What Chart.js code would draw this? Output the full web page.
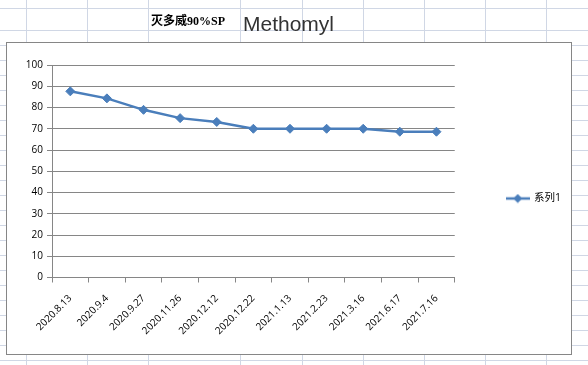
<!DOCTYPE html>
<html lang="zh">
<head>
<meta charset="UTF-8">
<title>Methomyl</title>
<style>
    html, body { margin: 0; padding: 0; background: #fff; }
    body { width: 588px; height: 365px; position: relative; overflow: hidden; }
    #sheet { position: absolute; left: 0; top: 0; }
    .cell-text { position: absolute; white-space: nowrap; }
    #nameCn { left: 151px; top: 15px; font: bold 12px/12px "Liberation Serif", "Noto Sans CJK SC", serif; color: #000; }
    #nameEn { left: 243px; top: 13px; font: 21px/21px "Liberation Sans", sans-serif; color: #333; }
    #chartBox { position: absolute; left: 6px; top: 42px; width: 566px; height: 313px;
        box-sizing: border-box; border: 1px solid #868686; background: #fff; }
    #chart { display: block; }
</style>
<script src="https://cdn.jsdelivr.net/npm/chart.js@4"></script>
</head>
<body>
<canvas id="sheet" width="588" height="365"></canvas>
<div class="cell-text" id="nameCn">灭多威90%SP</div>
<div class="cell-text" id="nameEn">Methomyl</div>
<div id="chartBox">
    <canvas id="chart" width="564" height="311"></canvas>
</div>

<script>
    // 数据
    const dates = ['2020.8.13', '2020.9.4', '2020.9.27', '2020.11.26', '2020.12.12', '2020.12.22',
        '2021.1.13', '2021.2.23', '2021.3.16', '2021.6.17', '2021.7.16'];
    const series1 = [87.6, 84.3, 78.9, 75.0, 73.2, 70.0, 70.0, 70.0, 70.0, 68.6, 68.6];
    const seriesName = '系列1';
    const yMin = 0, yMax = 100, yStep = 10;

    const lineBlue = '#4a7ebb';
    const axisGrey = '#868686';

    // 表格背景线 (Excel sheet)
    const sheet = document.getElementById('sheet').getContext('2d');
    sheet.strokeStyle = '#d0d7e5';
    sheet.lineWidth = 1;
    const rowLines = [8];
    for (let y = 30; y <= 365; y += 15) rowLines.push(y);
    const colLines = [26, 87, 148, 240, 302, 363, 424, 485, 546];
    sheet.beginPath();
    rowLines.forEach(y => { sheet.moveTo(0, y + 0.5); sheet.lineTo(588, y + 0.5); });
    colLines.forEach(x => { sheet.moveTo(x + 0.5, 0); sheet.lineTo(x + 0.5, 365); });
    sheet.stroke();

    // legend marker: line with diamond
    const legendMark = document.createElement('canvas');
    legendMark.width = 24;
    legendMark.height = 10;
    const lm = legendMark.getContext('2d');
    lm.strokeStyle = lineBlue;
    lm.lineWidth = 2.5;
    lm.beginPath();
    lm.moveTo(0, 5);
    lm.lineTo(24, 5);
    lm.stroke();
    lm.fillStyle = lineBlue;
    lm.beginPath();
    lm.moveTo(12, 0.5);
    lm.lineTo(16.5, 5);
    lm.lineTo(12, 9.5);
    lm.lineTo(7.5, 5);
    lm.closePath();
    lm.fill();

    Chart.defaults.font.family = "'Open Sans', 'Noto Sans CJK SC', sans-serif";
    Chart.defaults.font.size = 10;
    Chart.defaults.color = '#000';

    const chart = new Chart(document.getElementById('chart').getContext('2d'), {
        type: 'line',
        data: {
            labels: dates,
            datasets: [{
                label: seriesName,
                data: series1,
                borderColor: lineBlue,
                backgroundColor: lineBlue,
                borderWidth: 2.5,
                tension: 0,
                pointStyle: 'rectRot',
                pointRadius: 4.5,
                pointHoverRadius: 4.5,
                pointBorderWidth: 1,
                pointBackgroundColor: lineBlue,
                pointBorderColor: lineBlue
            }]
        },
        options: {
            responsive: false,
            animation: false,
            layout: { padding: 0 },
            plugins: {
                tooltip: { enabled: false },
                // empty title only reserves the space above the plot, legend stays centred on the whole box
                title: {
                    display: true,
                    text: ' ',
                    fullSize: false,
                    font: { size: 10, lineHeight: 1.2 },
                    padding: { top: 5, bottom: 5 }
                },
                legend: {
                    position: 'right',
                    labels: {
                        usePointStyle: true,
                        pointStyle: legendMark,
                        pointStyleWidth: 22,
                        padding: 52,
                        font: { size: 10.5 },
                        color: '#000'
                    }
                }
            },
            scales: {
                x: {
                    offset: true,
                    grid: { offset: true, drawOnChartArea: false, drawTicks: true, tickLength: 5, color: axisGrey },
                    border: { color: axisGrey },
                    ticks: { autoSkip: false, maxRotation: 45, minRotation: 45, padding: 10 },
                    afterFit: (scale) => { scale.height = 76.5; }
                },
                y: {
                    min: yMin,
                    max: yMax,
                    grid: { color: axisGrey, tickLength: 5 },
                    border: { color: axisGrey },
                    ticks: { stepSize: yStep, padding: 4 },
                    afterFit: (scale) => { scale.width = 45; }
                }
            }
        }
    });
</script>
</body>
</html>
